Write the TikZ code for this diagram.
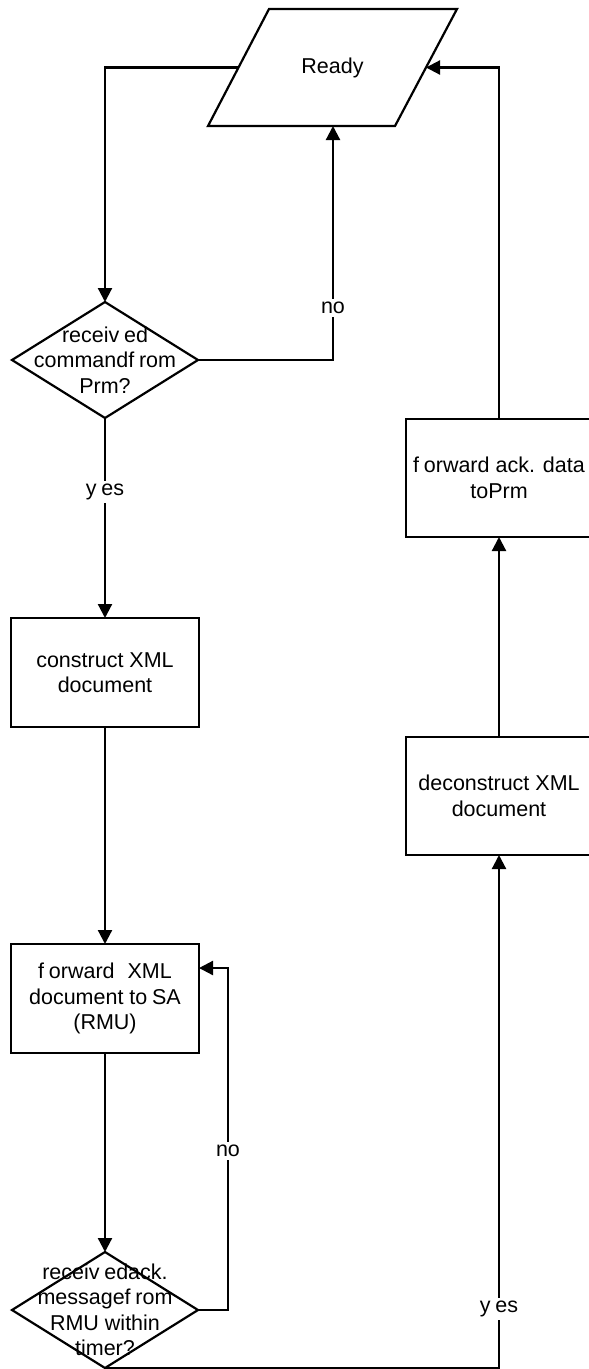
\documentclass[tikz,border=0pt]{standalone}
\usepackage{fontspec}
\setmainfont{Liberation Sans}
\usetikzlibrary{shapes.geometric,arrows.meta,calc}
% small gap used inside some words
\newcommand\gp{\kern0.22em}
\begin{document}
\begin{tikzpicture}[x=1pt,y=-1pt,
  outline/.style={draw=black,line width=2.2pt},
  txt/.style={font=\fontsize{21.5}{25.5}\selectfont,align=center,inner sep=0pt},
  procbox/.style={outline,txt,rectangle,minimum width=188pt,minimum height=109pt,outer sep=0pt},
  sidebox/.style={outline,txt,rectangle,minimum width=186pt,minimum height=118pt,outer sep=0pt},
  decision/.style={outline,diamond,minimum width=186pt,minimum height=116pt,inner sep=0pt,outer sep=0pt},
  flow/.style={line width=2.2pt,-{Triangle[length=14pt,width=14pt]}},
  tag/.style={txt,fill=white,inner sep=3pt}]
\useasboundingbox (0,0) rectangle (589,1369);

% start state: a slanted input/output box
\coordinate (readyTL) at (269,9);
\coordinate (readyTR) at (457,9);
\coordinate (readyBR) at (395,126);
\coordinate (readyBL) at (208,126);
\draw[outline,line join=miter] (readyTL) -- (readyTR) -- (readyBR) -- (readyBL) -- cycle;
\node[txt] (ready) at (332.5,67.5) {Ready};
\coordinate (readyL) at ($(readyTL)!0.5!(readyBL)$);
\coordinate (readyR) at ($(readyTR)!0.5!(readyBR)$);
\coordinate (readyB) at (333,126);

% left column
\node[decision] (d1) at (105,360) {};
\node[txt] (d1t) at (d1.center) {receiv\gp ed\\commandf\gp rom\\Prm?};
\node[procbox] (construct) at (105,672.5) {construct XML\\document};
\node[procbox] (fwdxml) at (105,998.5) {f\gp orward\hspace{0.6em}XML\\document to\gp SA\\(RMU)};
\node[decision] (d2) at (105,1310) {};
\node[txt] (d2t) at (d2.center) {receiv\gp edack.\\messagef\gp rom\\RMU within\\timer?};

% right column
\node[sidebox] (fwdack) at (499,478) {f\gp orward ack. data\\toPrm};
\node[sidebox] (decon) at (499,796) {deconstruct XML\\document};

% connectors
\draw[flow] (readyL) -| (d1.north);
\draw[flow] (d1.east) -| (readyB);
\draw[flow] (d1.south) -- (construct.north);
\draw[flow] (construct.south) -- (fwdxml.north);
\draw[flow] (fwdxml.south) -- (d2.north);
\coordinate (loopR) at (228,968);
\draw[flow] (d2.east) -| (loopR) -- (loopR -| fwdxml.east);
\draw[flow] (d2.south) -| (decon.south);
\draw[flow] (decon.north) -- (fwdack.south);
\draw[flow] (fwdack.north) |- (readyR);

% branch labels
\node[tag] (no1) at (333,308) {no};
\node[tag] (yes1) at (105,492) {y\gp es};
\node[tag] (no2) at (228,1151) {no};
\node[tag] (yes2) at (499,1309) {y\gp es};
\end{tikzpicture}
\end{document}
